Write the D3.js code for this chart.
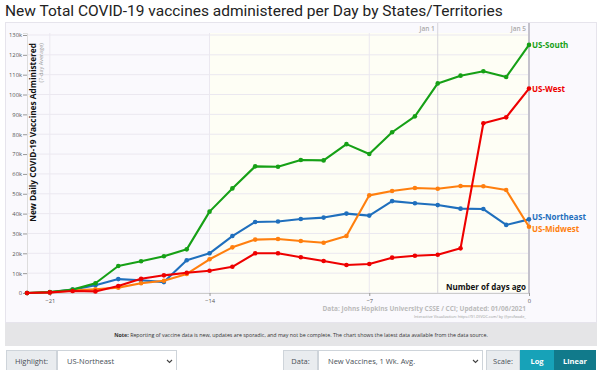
<!DOCTYPE html>
<html>
<head>
<meta charset="utf-8">
<script src="https://cdn.jsdelivr.net/npm/d3@7"></script>
<style>
  body { margin: 0; background: #fff; }
  svg { display: block; font-family: "Open Sans", sans-serif; }
</style>
</head>
<body>
<script>
const width = 600,
      height = 370;

// days ago
const days = d3.range(-22, 1);

// 7-day average, thousands of vaccines per day
const south = [0, 0.5, 1.7, 4.9, 13.6, 16, 18.5, 22, 41, 52.7, 63.8, 63.6, 67, 66.8, 75, 70, 81, 89, 105.6, 109.5, 111.7, 108.8, 125];
const west = [0, 0.3, 1, 0.8, 3.5, 7.2, 8.9, 10.2, 11.2, 13.2, 20, 20, 18, 16.1, 14.1, 14.6, 17.8, 18.8, 19.3, 22.5, 85.5, 88.5, 103];
const northeast = [0, 0.3, 1.7, 3.9, 7, 6.4, 5.5, 16.5, 20, 28.7, 35.8, 36, 37.3, 38, 40, 39, 46.3, 45.2, 44.3, 42.5, 42.3, 34.3, 37.1];
const midwest = [0, 0.3, 1.3, 1.9, 2.7, 4.9, 6.2, 9.6, 17, 23, 26.9, 27.2, 26.2, 25.3, 28.7, 49.2, 51.4, 52.9, 52.5, 53.9, 53.8, 51.9, 33.4];

const regions = [
    {name: "US-Northeast", values: northeast, color: "#1f6fbd", dy: -2},
    {name: "US-Midwest", values: midwest, color: "#ff7f0e", dy: 2},
    {name: "US-South", values: south, color: "#16a016", dy: 0},
    {name: "US-West", values: west, color: "#ee0000", dy: 0}
];

const yTicks = d3.range(0, 130001, 10000);
const xTicks = [-21, -14, -7, 0];
const dateMarks = [{day: -4, label: "Jan 1"}, {day: 0, label: "Jan 5"}];

const svg = d3.select("body").append("svg")
    .attr("width", width)
    .attr("height", height);

const x = d3.scaleLinear().domain([-22, 0]).range([27, 529]);
const y = d3.scaleLinear().domain([0, 131000]).range([293, 33]);

svg.append("text")
    .attr("x", 5).attr("y", 16)
    .attr("font-family", "Roboto, sans-serif")
    .attr("font-size", 15.5)
    .attr("fill", "#222")
    .text("New Total COVID-19 vaccines administered per Day by States/Territories");

// panel
svg.append("rect")
    .attr("x", 5.5).attr("y", 22.5)
    .attr("width", 591).attr("height", 300)
    .attr("fill", "#faf9fd")
    .attr("stroke", "#e6e4ec");

// recent two weeks shaded
svg.append("rect")
    .attr("x", x(-14)).attr("y", y(131000))
    .attr("width", x(0) - x(-14)).attr("height", y(0) - y(131000))
    .attr("fill", "#fefef5");

// gridlines
svg.append("g")
    .selectAll("line")
    .data(yTicks)
    .join("line")
    .attr("x1", x(-22)).attr("x2", x(0))
    .attr("y1", d => y(d)).attr("y2", d => y(d))
    .attr("stroke", "#ebe8f0");

svg.append("g")
    .selectAll("line")
    .data(xTicks.slice(0, 3))
    .join("line")
    .attr("x1", d => x(d)).attr("x2", d => x(d))
    .attr("y1", y(0)).attr("y2", y(131000))
    .attr("stroke", "#ebe8f0");

// date markers
svg.append("g")
    .selectAll("line")
    .data(dateMarks)
    .join("line")
    .attr("x1", d => x(d.day)).attr("x2", d => x(d.day))
    .attr("y1", 23).attr("y2", y(0))
    .attr("stroke", d => d.day === 0 ? "#c4c2cc" : "#d6d4dc")
    .attr("stroke-width", d => d.day === 0 ? 2 : 1);

svg.append("g")
    .selectAll("text")
    .data(dateMarks)
    .join("text")
    .attr("x", d => x(d.day) - 3).attr("y", 31)
    .attr("text-anchor", "end")
    .attr("font-size", 6.5)
    .attr("font-weight", 600)
    .attr("fill", "#aaa")
    .text(d => d.label);

// axes
const yAxis = svg.append("g")
    .attr("transform", `translate(${x(-22)},0)`)
    .call(d3.axisLeft(y).tickValues(yTicks).tickSize(4)
      .tickFormat(d => d === 0 ? "0" : d / 1000 + "k"));
yAxis.select(".domain").attr("stroke", "#ddd");
yAxis.selectAll(".tick line").attr("stroke", "#999");
yAxis.selectAll(".tick text").attr("font-size", 5.8).attr("fill", "#555")
    .attr("font-family", "Open Sans, sans-serif").attr("x", -5);

const xAxis = svg.append("g")
    .attr("transform", `translate(0,${y(0)})`)
    .call(d3.axisBottom(x).tickValues(xTicks).tickSize(3));
xAxis.select(".domain").attr("stroke", "#ccc");
xAxis.selectAll(".tick line").attr("stroke", "#999");
xAxis.selectAll(".tick text").attr("font-size", 5.8).attr("fill", "#555")
    .attr("font-family", "Open Sans, sans-serif").attr("y", 6);

// axis titles
svg.append("text")
    .attr("transform", "translate(36,43) rotate(-90)")
    .attr("text-anchor", "end")
    .attr("font-size", 8.3)
    .attr("font-weight", 700)
    .attr("fill", "#111")
    .text("New Daily COVID-19 Vaccines Administered");

svg.append("text")
    .attr("transform", "translate(43,43) rotate(-90)")
    .attr("text-anchor", "end")
    .attr("font-size", 5.5)
    .attr("fill", "#999")
    .text("(7-day Average)");

svg.append("text")
    .attr("x", 526).attr("y", 290)
    .attr("text-anchor", "end")
    .attr("font-size", 8)
    .attr("font-weight", 700)
    .attr("fill", "#111")
    .text("Number of days ago");

svg.append("text")
    .attr("x", 526).attr("y", 311)
    .attr("text-anchor", "end")
    .attr("font-size", 6.5)
    .attr("font-weight", 700)
    .attr("fill", "#bbb")
    .text("Data: Johns Hopkins University CSSE / CCI; Updated: 01/06/2021");

svg.append("text")
    .attr("x", 526).attr("y", 318)
    .attr("text-anchor", "end")
    .attr("font-size", 3.8)
    .attr("fill", "#999")
    .text("Interactive Visualization: https://91-DIVOC.com/ by @profwade_");

// series
const line = d3.line()
    .x((d, i) => x(days[i]))
    .y(d => y(d * 1000));

const series = svg.append("g")
    .selectAll("g")
    .data(regions)
    .join("g");

series.append("path")
    .attr("d", d => line(d.values))
    .attr("fill", "none")
    .attr("stroke", d => d.color)
    .attr("stroke-width", 2.1)
    .attr("stroke-linejoin", "round");

series.selectAll("circle")
    .data(d => d.values.map(v => ({v, color: d.color})))
    .join("circle")
    .attr("cx", (d, i) => x(days[i]))
    .attr("cy", d => y(d.v * 1000))
    .attr("r", 2.3)
    .attr("fill", d => d.color);

series.append("text")
    .attr("x", x(0) + 3)
    .attr("y", d => y(d.values[d.values.length - 1] * 1000) + 3 + d.dy)
    .attr("font-size", 8)
    .attr("font-weight", 700)
    .attr("fill", d => d.color)
    .text(d => d.name);

// note bar
svg.append("rect")
    .attr("x", 5).attr("y", 323)
    .attr("width", 592).attr("height", 23)
    .attr("fill", "#e5e5e7");

svg.append("text")
    .attr("x", 301).attr("y", 337)
    .attr("text-anchor", "middle")
    .attr("font-size", 5.3)
    .attr("fill", "#333")
    .html("<tspan font-weight='700'>Note:</tspan> Reporting of vaccine data is new, updates are sporadic, and may not be complete. The chart shows the latest data available from the data source.");

// controls
const controls = [
    {x: 6, w: 51, label: "Highlight:", type: "addon"},
    {x: 57, w: 120, label: "US-Northeast", type: "select"},
    {x: 283, w: 35, label: "Data:", type: "addon"},
    {x: 318, w: 165, label: "New Vaccines, 1 Wk. Avg.", type: "select"},
    {x: 486, w: 34, label: "Scale:", type: "addon"},
    {x: 520, w: 34, label: "Log", type: "btn", fill: "#17a2b8"},
    {x: 554, w: 42, label: "Linear", type: "btn", fill: "#117a8b"}
];

const ctl = svg.append("g")
    .selectAll("g")
    .data(controls)
    .join("g")
    .attr("transform", d => `translate(${d.x},350)`);

ctl.append("rect")
    .attr("x", 0.5).attr("y", 0.5)
    .attr("width", d => d.w - 1).attr("height", 26)
    .attr("fill", d => d.type === "addon" ? "#e9ecef" : d.type === "select" ? "#fff" : d.fill)
    .attr("stroke", d => d.type === "btn" ? d.fill : "#ced4da");

ctl.append("text")
    .attr("x", d => d.type === "btn" ? d.w / 2 : d.type === "addon" ? d.w / 2 : 10)
    .attr("y", 14)
    .attr("text-anchor", d => d.type === "select" ? "start" : "middle")
    .attr("font-size", 7.5)
    .attr("font-weight", d => d.type === "btn" ? 700 : 400)
    .attr("fill", d => d.type === "btn" ? "#fff" : "#495057")
    .text(d => d.label);

ctl.filter(d => d.type === "select")
    .append("path")
    .attr("d", d => `M${d.w - 10},10 l2.5,2.5 l2.5,-2.5`)
    .attr("fill", "none")
    .attr("stroke", "#444")
    .attr("stroke-width", 1.1);
</script>
</body>
</html>
